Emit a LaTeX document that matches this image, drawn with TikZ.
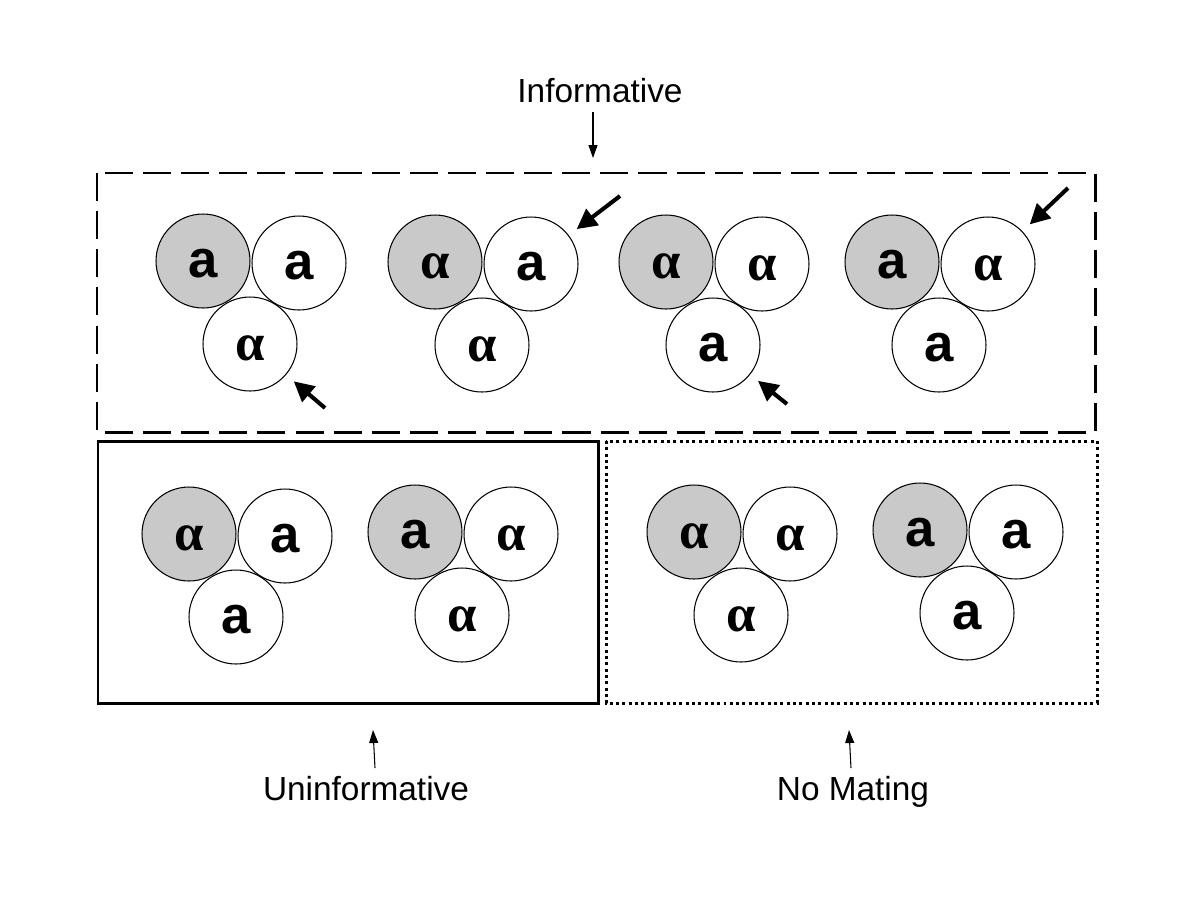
\documentclass[tikz,border=0pt]{standalone}
\usepackage{fontspec}
\setmainfont{Liberation Sans}
\newfontfamily\greekfont{Liberation Serif}
\usetikzlibrary{arrows.meta}
\newcommand\ga{{\greekfont α}}
\tikzset{
  cell/.style={circle,draw,line width=0.6pt,minimum size=1.88cm,inner sep=0pt,
    text height=0.65cm,text depth=0pt,fill=white,font=\fontsize{30}{34}\selectfont\bfseries},
  shaded/.style={cell,fill=gray!42},
  bigarrow/.style={-{Triangle[length=0.4cm,width=0.4cm]},line width=2.3pt,shorten >=0.2cm},
  lblarrow/.style={-{Triangle[length=0.26cm,width=0.18cm]},line width=0.6pt},
  lbl/.style={text depth=0pt,font=\fontsize{19}{22}\selectfont}
}

\begin{document}
\begin{tikzpicture}[x=0.02cm,y=-0.02cm]
    \useasboundingbox (0,0) rectangle (1200,900);
    \draw[line width=1.7pt,dash pattern=on 16pt off 5.7pt] (97,173) rectangle (1095,432);
    \draw[line width=1.7pt] (98,441) rectangle (598,703);
    \draw[line width=1.7pt,dash pattern=on 1.7pt off 1.9pt] (606,441) rectangle (1097,703);
    \foreach \n/\x/\y/\p/\q/\r in {1/203/261/a/a/\ga, 2/435/262/\ga/a/\ga,
        3/666/262/\ga/\ga/a, 4/892/262/a/\ga/a, 5/189/534/\ga/a/a,
        6/415/532/a/\ga/\ga, 7/694/532/\ga/\ga/\ga, 8/920/530/a/a/a}
      {
      \node[shaded] (g\n s) at (\x,\y) {\p};
      \node[cell] (g\n r) at (\x+96,\y+2) {\q};
      \node[cell] (g\n b) at (\x+47,\y+83) {\r};
      }
    \coordinate (p1) at (325,408);
    \coordinate (p2) at (620,196);
    \coordinate (p3) at (787,404);
    \coordinate (p4) at (1068,188);
    \draw[bigarrow] (p1) -- (g1b);
    \draw[bigarrow] (p2) -- (g2r);
    \draw[bigarrow] (p3) -- (g3b);
    \draw[bigarrow] (p4) -- (g4r);
    \node[lbl] (inf) at (600,90) {Informative};
    \node[lbl] (uninf) at (366,788) {Uninformative};
    \node[lbl] (nomate) at (853,788) {No Mating};
    \coordinate (inf-a) at (593,112);
    \coordinate (inf-b) at (593,158);
    \coordinate (uninf-a) at (375,768);
    \coordinate (uninf-b) at (373,730);
    \coordinate (nomate-a) at (851,768);
    \coordinate (nomate-b) at (849,730);
    \draw[lblarrow] (inf-a) -- (inf-b);
    \draw[lblarrow] (uninf-a) -- (uninf-b);
    \draw[lblarrow] (nomate-a) -- (nomate-b);
\end{tikzpicture}
\end{document}
